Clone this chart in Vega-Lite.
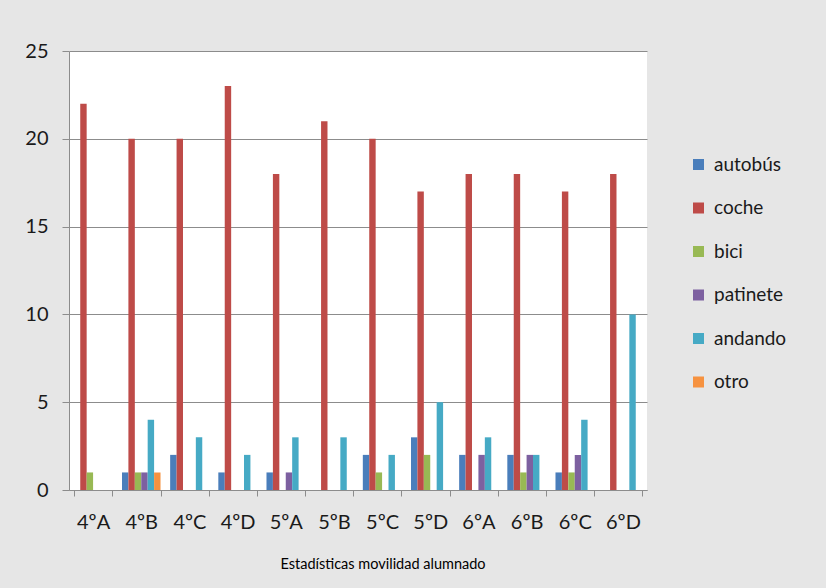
{
  "$schema": "https://vega.github.io/schema/vega-lite/v6.json",
  "width": 578,
  "height": 439,
  "autosize": {"type": "none"},
  "padding": {"left": 69, "top": 51, "right": 179, "bottom": 98},
  "background": "#e6e6e6",
  "title": {"text": "Estadísticas movilidad alumnado", "orient": "bottom", "anchor": "middle", "dx": 25, "offset": 26, "font": "Lato", "fontSize": 14.5, "fontWeight": "normal", "color": "#000000"},
  "config": {
    "view": {"fill": "#ffffff", "stroke": null},
    "font": "Lato"
  },
  "data": {"values": [
    {"grupo": "4ºA", "medio": "autobús", "n": 0}, {"grupo": "4ºA", "medio": "coche", "n": 22}, {"grupo": "4ºA", "medio": "bici", "n": 1}, {"grupo": "4ºA", "medio": "patinete", "n": 0}, {"grupo": "4ºA", "medio": "andando", "n": 0}, {"grupo": "4ºA", "medio": "otro", "n": 0},
    {"grupo": "4ºB", "medio": "autobús", "n": 1}, {"grupo": "4ºB", "medio": "coche", "n": 20}, {"grupo": "4ºB", "medio": "bici", "n": 1}, {"grupo": "4ºB", "medio": "patinete", "n": 1}, {"grupo": "4ºB", "medio": "andando", "n": 4}, {"grupo": "4ºB", "medio": "otro", "n": 1},
    {"grupo": "4ºC", "medio": "autobús", "n": 2}, {"grupo": "4ºC", "medio": "coche", "n": 20}, {"grupo": "4ºC", "medio": "bici", "n": 0}, {"grupo": "4ºC", "medio": "patinete", "n": 0}, {"grupo": "4ºC", "medio": "andando", "n": 3}, {"grupo": "4ºC", "medio": "otro", "n": 0},
    {"grupo": "4ºD", "medio": "autobús", "n": 1}, {"grupo": "4ºD", "medio": "coche", "n": 23}, {"grupo": "4ºD", "medio": "bici", "n": 0}, {"grupo": "4ºD", "medio": "patinete", "n": 0}, {"grupo": "4ºD", "medio": "andando", "n": 2}, {"grupo": "4ºD", "medio": "otro", "n": 0},
    {"grupo": "5ºA", "medio": "autobús", "n": 1}, {"grupo": "5ºA", "medio": "coche", "n": 18}, {"grupo": "5ºA", "medio": "bici", "n": 0}, {"grupo": "5ºA", "medio": "patinete", "n": 1}, {"grupo": "5ºA", "medio": "andando", "n": 3}, {"grupo": "5ºA", "medio": "otro", "n": 0},
    {"grupo": "5ºB", "medio": "autobús", "n": 0}, {"grupo": "5ºB", "medio": "coche", "n": 21}, {"grupo": "5ºB", "medio": "bici", "n": 0}, {"grupo": "5ºB", "medio": "patinete", "n": 0}, {"grupo": "5ºB", "medio": "andando", "n": 3}, {"grupo": "5ºB", "medio": "otro", "n": 0},
    {"grupo": "5ºC", "medio": "autobús", "n": 2}, {"grupo": "5ºC", "medio": "coche", "n": 20}, {"grupo": "5ºC", "medio": "bici", "n": 1}, {"grupo": "5ºC", "medio": "patinete", "n": 0}, {"grupo": "5ºC", "medio": "andando", "n": 2}, {"grupo": "5ºC", "medio": "otro", "n": 0},
    {"grupo": "5ºD", "medio": "autobús", "n": 3}, {"grupo": "5ºD", "medio": "coche", "n": 17}, {"grupo": "5ºD", "medio": "bici", "n": 2}, {"grupo": "5ºD", "medio": "patinete", "n": 0}, {"grupo": "5ºD", "medio": "andando", "n": 5}, {"grupo": "5ºD", "medio": "otro", "n": 0},
    {"grupo": "6ºA", "medio": "autobús", "n": 2}, {"grupo": "6ºA", "medio": "coche", "n": 18}, {"grupo": "6ºA", "medio": "bici", "n": 0}, {"grupo": "6ºA", "medio": "patinete", "n": 2}, {"grupo": "6ºA", "medio": "andando", "n": 3}, {"grupo": "6ºA", "medio": "otro", "n": 0},
    {"grupo": "6ºB", "medio": "autobús", "n": 2}, {"grupo": "6ºB", "medio": "coche", "n": 18}, {"grupo": "6ºB", "medio": "bici", "n": 1}, {"grupo": "6ºB", "medio": "patinete", "n": 2}, {"grupo": "6ºB", "medio": "andando", "n": 2}, {"grupo": "6ºB", "medio": "otro", "n": 0},
    {"grupo": "6ºC", "medio": "autobús", "n": 1}, {"grupo": "6ºC", "medio": "coche", "n": 17}, {"grupo": "6ºC", "medio": "bici", "n": 1}, {"grupo": "6ºC", "medio": "patinete", "n": 2}, {"grupo": "6ºC", "medio": "andando", "n": 4}, {"grupo": "6ºC", "medio": "otro", "n": 0},
    {"grupo": "6ºD", "medio": "autobús", "n": 0}, {"grupo": "6ºD", "medio": "coche", "n": 18}, {"grupo": "6ºD", "medio": "bici", "n": 0}, {"grupo": "6ºD", "medio": "patinete", "n": 0}, {"grupo": "6ºD", "medio": "andando", "n": 10}, {"grupo": "6ºD", "medio": "otro", "n": 0}
  ]},
  "mark": {"type": "bar"},
  "encoding": {
    "x": {
      "field": "grupo", "type": "nominal", "sort": null,
      "scale": {"paddingInner": 0.2, "paddingOuter": 0.1},
      "axis": {"title": null, "labelAngle": 0, "labelFontSize": 20, "labelColor": "#1a1a1a", "labelPadding": 16, "tickBand": "extent", "tickSize": 6, "tickColor": "#8c8c8c", "domainColor": "#8c8c8c", "grid": false}
    },
    "xOffset": {"field": "medio", "type": "nominal", "sort": ["autobús", "coche", "bici", "patinete", "andando", "otro"], "scale": {"paddingInner": 0, "paddingOuter": 0}},
    "y": {
      "field": "n", "type": "quantitative",
      "scale": {"domain": [0, 25]},
      "axis": {"title": null, "values": [0, 5, 10, 15, 20, 25], "labelFontSize": 20, "labelColor": "#1a1a1a", "labelPadding": 14, "tickSize": 7, "tickColor": "#8c8c8c", "domainColor": "#8c8c8c", "gridColor": "#8c8c8c", "grid": true}
    },
    "color": {
      "field": "medio", "type": "nominal",
      "sort": ["autobús", "coche", "bici", "patinete", "andando", "otro"],
      "scale": {"domain": ["autobús", "coche", "bici", "patinete", "andando", "otro"], "range": ["#4a7ebb", "#be4b48", "#98b954", "#7d60a0", "#46aac5", "#f69240"]},
      "legend": {"title": null, "orient": "none", "legendX": 620, "legendY": 104, "symbolType": "square", "symbolSize": 121, "symbolStrokeWidth": 0, "labelFontSize": 19, "labelColor": "#1a1a1a", "labelOffset": 6, "rowPadding": 23.5, "padding": 0}
    }
  }
}
